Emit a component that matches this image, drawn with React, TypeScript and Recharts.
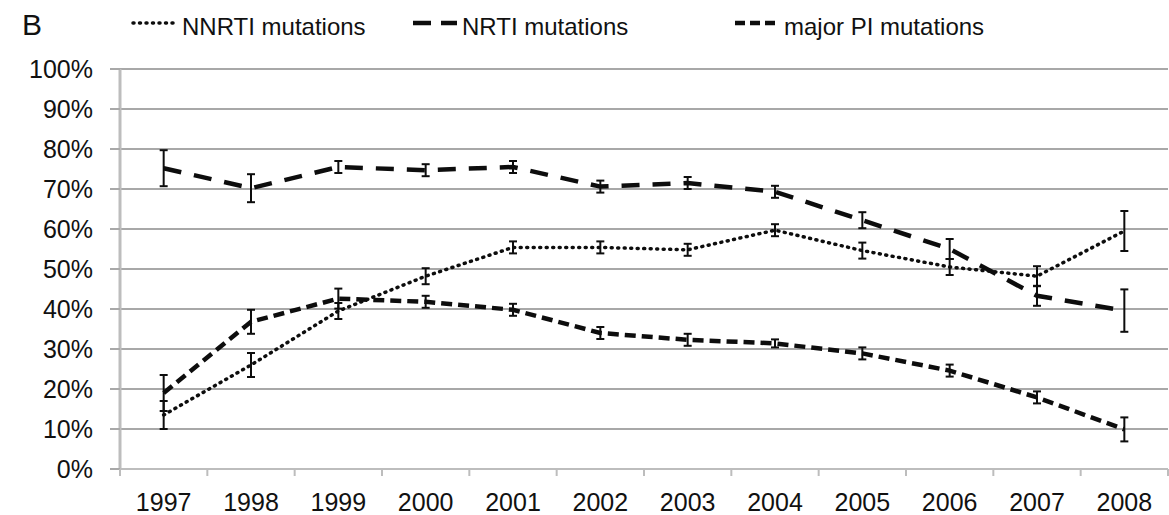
import { LineChart, Line, XAxis, YAxis, CartesianGrid, ErrorBar } from 'recharts';

const years = ['1997', '1998', '1999', '2000', '2001', '2002', '2003', '2004', '2005', '2006', '2007', '2008'];

const nnrti = [13.5, 26, 39.5, 48.2, 55.4, 55.4, 54.8, 59.7, 54.6, 50.5, 48.2, 59.5];
const nnrtiErr = [3.5, 3, 2, 2, 1.5, 1.5, 1.5, 1.5, 2, 2, 2.5, 5];

const nrti = [75.2, 70.2, 75.5, 74.7, 75.5, 70.6, 71.5, 69.3, 62.2, 55, 43.3, 39.6];
const nrtiErr = [4.5, 3.5, 1.5, 1.5, 1.5, 1.5, 1.5, 1.5, 2, 2.5, 2.5, 5.3];

const majorPi = [19, 36.8, 42.6, 41.8, 39.8, 34, 32.3, 31.4, 28.9, 24.6, 17.9, 9.9];
const majorPiErr = [4.5, 3, 2.5, 1.5, 1.5, 1.5, 1.5, 1, 1.5, 1.5, 1.5, 3];

const yTicks = [0, 10, 20, 30, 40, 50, 60, 70, 80, 90, 100];

const data = years.map((year, i) => ({
  year,
  nnrti: nnrti[i],
  nnrtiErr: nnrtiErr[i],
  nrti: nrti[i],
  nrtiErr: nrtiErr[i],
  majorPi: majorPi[i],
  majorPiErr: majorPiErr[i],
}));

const W = 1169;
const H = 515;
const margin = { top: 69, right: 1, left: 0, bottom: 0 };
const yAxisWidth = 120;
const band = (W - margin.left - margin.right - yAxisWidth) / years.length;
const font = '"Liberation Sans", Arial, sans-serif';
const axisGray = '#bdbdbd';
const gridGray = '#a8a8a8';
const ink = '#0d0d0d';
const textInk = '#111';

const X_TICK = 7;
const X_MARGIN = 17;

function YearTick(props: any) {
  const { x, y, payload, index } = props;
  const axisY = y - X_TICK - X_MARGIN;
  const left = x - band / 2;
  return (
    <g>
      <line x1={left} x2={left} y1={axisY} y2={axisY + X_TICK} stroke={axisGray} strokeWidth={2} />
      {index === years.length - 1 && (
        <line x1={left + band} x2={left + band} y1={axisY} y2={axisY + X_TICK} stroke={axisGray} strokeWidth={2} />
      )}
      <text x={x} y={y} dy="0.71em" textAnchor="middle" fontSize={25} fontFamily={font} fill={textInk}>
        {payload.value}
      </text>
    </g>
  );
}

const legendItems = [
  { label: 'NNRTI mutations', x: 133, dash: '1 5.5', width: 3.5, cap: 'round' },
  { label: 'NRTI mutations', x: 413, dash: '18 10', width: 4.5, cap: 'butt' },
  { label: 'major PI mutations', x: 735, dash: '10 5', width: 4.5, cap: 'butt' },
];

export default function App() {
  return (
    <div style={{ position: 'absolute', left: 0, top: 0, width: W, height: H, background: '#fff' }}>
      <LineChart width={W} height={H} data={data} margin={margin}>
        <CartesianGrid vertical={false} stroke={gridGray} strokeWidth={2} />
        <XAxis
          dataKey="year"
          scale="band"
          height={H - margin.top - 400}
          axisLine={{ stroke: axisGray, strokeWidth: 2 }}
          tickLine={false}
          tickSize={X_TICK}
          tickMargin={X_MARGIN}
          tick={<YearTick />}
          interval={0}
        />
        <YAxis
          domain={[0, 100]}
          ticks={yTicks}
          width={yAxisWidth}
          axisLine={{ stroke: axisGray, strokeWidth: 3 }}
          tickLine={{ stroke: gridGray, strokeWidth: 2 }}
          tickSize={10}
          tickMargin={17}
          tickFormatter={(v: number) => `${v}%`}
          tick={{ fontSize: 25, fontFamily: font, fill: textInk }}
          interval={0}
        />
        <Line
          dataKey="nnrti"
          type="linear"
          stroke={ink}
          strokeWidth={3.5}
          strokeDasharray="1 5.5"
          strokeLinecap="round"
          dot={false}
          activeDot={false}
          isAnimationActive={false}
        >
          <ErrorBar dataKey="nnrtiErr" direction="y" width={4} stroke={ink} strokeWidth={2} isAnimationActive={false} />
        </Line>
        <Line
          dataKey="nrti"
          type="linear"
          stroke={ink}
          strokeWidth={4.5}
          strokeDasharray="18 13"
          dot={false}
          activeDot={false}
          isAnimationActive={false}
        >
          <ErrorBar dataKey="nrtiErr" direction="y" width={4} stroke={ink} strokeWidth={2} isAnimationActive={false} />
        </Line>
        <Line
          dataKey="majorPi"
          type="linear"
          stroke={ink}
          strokeWidth={4.5}
          strokeDasharray="11 6"
          dot={false}
          activeDot={false}
          isAnimationActive={false}
        >
          <ErrorBar dataKey="majorPiErr" direction="y" width={4} stroke={ink} strokeWidth={2} isAnimationActive={false} />
        </Line>
      </LineChart>
      <svg width={W} height={60} style={{ position: 'absolute', left: 0, top: 0 }}>
        <text x={22} y={35} fontSize={30} fontFamily={font} fill={textInk}>B</text>
        {legendItems.map((item) => (
          <g key={item.label}>
            <line
              x1={item.x}
              x2={item.x + 44}
              y1={23}
              y2={23}
              stroke={ink}
              strokeWidth={item.width}
              strokeDasharray={item.dash}
              strokeLinecap={item.cap as any}
            />
            <text x={item.x + 49} y={35} fontSize={24} fontFamily={font} fill={textInk}>
              {item.label}
            </text>
          </g>
        ))}
      </svg>
    </div>
  );
}
